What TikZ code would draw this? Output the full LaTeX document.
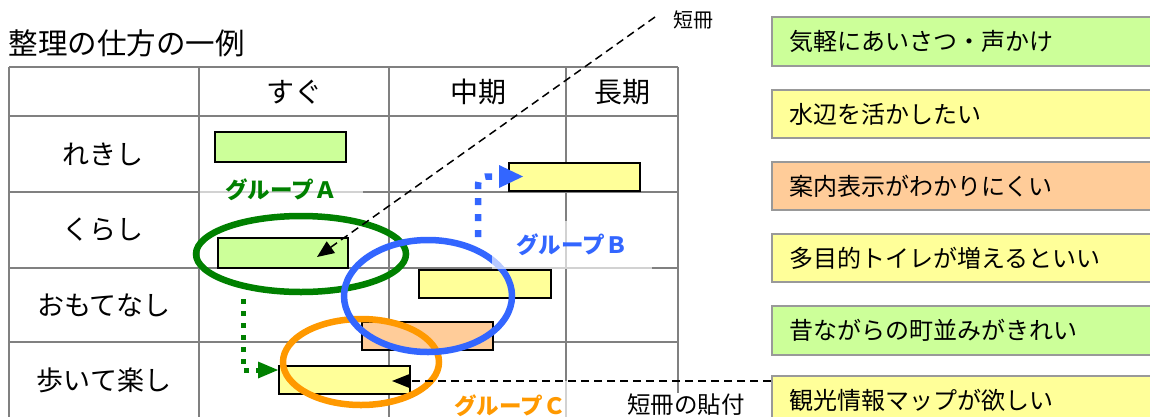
\documentclass[tikz,border=0pt]{standalone}
\usepackage{fontspec}
\setmainfont{Noto Sans CJK JP}
\usetikzlibrary{arrows.meta,shapes.geometric}
\definecolor{barG}{HTML}{CCFF99}
\definecolor{barY}{HTML}{FFFF99}
\definecolor{barO}{HTML}{FFCC99}
\definecolor{gridC}{HTML}{808080}
\definecolor{grpA}{HTML}{008000}
\definecolor{grpB}{HTML}{3366FF}
\definecolor{grpC}{HTML}{FF9900}
\definecolor{boxBorder}{HTML}{999999}
\begin{document}
\begin{tikzpicture}[x=1pt,y=-1pt,
  gridline/.style={draw=gridC,line width=2pt},
  bar/.style={draw=black,line width=2pt,inner sep=0pt,minimum width=131pt,minimum height=28pt},
  hdr/.style={font=\fontsize{28pt}{30pt}\selectfont},
  rowlbl/.style={font=\fontsize{27pt}{30pt}\selectfont},
  rbox/.style={draw=boxBorder,line width=2pt,anchor=west,text width=366pt,inner xsep=17pt,inner ysep=0pt,align=left,font=\fontsize{24pt}{28pt}\selectfont},
  glabel/.style={font=\fontsize{22.5pt}{24pt}\selectfont\bfseries,fill=white,fill opacity=0.65,text opacity=1,inner sep=0pt},
  grpring/.style={line width=6.5pt},
  dotline/.style={line cap=butt}]
\useasboundingbox (0,0) rectangle (1150,416);
\clip (0,0) rectangle (1150,416);

% title
\node[anchor=west,font=\fontsize{29.5pt}{32pt}\selectfont] (title) at (5,43) {整理の仕方の一例};

% table grid
\draw[gridline] (9,67) -- (678,67);
\foreach \yy in {116,192,268,342} \draw[gridline] (9,\yy) -- (678,\yy);
\foreach \xx in {9,199,389,566,678} \draw[gridline] (\xx,67) -- (\xx,420);

% headers
\node[hdr] (hSugu) at (294,92) {すぐ};
\node[hdr] (hChu) at (478,92) {中期};
\node[hdr] (hCho) at (622,92) {長期};
\node[rowlbl] (rReki) at (103,154) {れきし};
\node[rowlbl] (rKura) at (103,230) {くらし};
\node[rowlbl] (rOmo) at (104,305) {おもてなし};
\node[rowlbl] (rAru) at (104,380) {歩いて楽し};

% bars
\node[bar,fill=barG,minimum height=30pt] (b1) at (280.5,147) {};
\node[bar,fill=barG,minimum height=30pt,minimum width=130pt] (b2) at (283,253) {};
\node[bar,fill=barY] (b3) at (574.5,177) {};
\node[bar,fill=barY,minimum width=132pt] (b4) at (485,284) {};
\node[bar,fill=barO] (b5) at (427.5,336) {};
\node[bar,fill=barY] (b6) at (344.5,380) {};

% group rings
\draw[grpring,draw=grpC] (361,362) ellipse [x radius=78pt, y radius=43pt];
\draw[grpring,draw=grpA] (301,254) ellipse [x radius=105pt, y radius=38pt];
\draw[grpring,draw=grpB] (428,296) ellipse [x radius=84pt, y radius=56pt];

% right boxes
\node[rbox,fill=barG,minimum height=49pt] (r1) at (771,41.5) {気軽にあいさつ・声かけ};
\node[rbox,fill=barY,minimum height=48pt] (r2) at (771,114) {水辺を活かしたい};
\node[rbox,fill=barO,minimum height=48pt] (r3) at (771,186) {案内表示がわかりにくい};
\node[rbox,fill=barY,minimum height=48pt] (r4) at (771,258) {多目的トイレが増えるといい};
\node[rbox,fill=barG,minimum height=49pt] (r5) at (771,330.5) {昔ながらの町並みがきれい};
\node[rbox,fill=barY,minimum height=48pt] (r6) at (771,400) {観光情報マップが欲しい};

% group labels
\node[glabel,text=grpA,minimum width=163pt,minimum height=26pt] (gA) at (281,190) {グループＡ};
\node[glabel,text=grpB,minimum width=160pt,minimum height=48pt] (gB) at (572,245) {グループＢ};
\node[glabel,text=grpC,minimum width=140pt,minimum height=50pt] (gC) at (510,406) {グループＣ};

% annotation labels
\node[font=\fontsize{20pt}{24pt}\selectfont] (lblT) at (693,20) {短冊};
\node[font=\fontsize{23.5pt}{26pt}\selectfont,fill=white,inner sep=1pt] (lblP) at (686,405) {短冊の貼付};

% dashed connectors
\coordinate (tStart) at (655,17);
\coordinate (tTip) at (317,257);
\draw[line width=1.5pt,dash pattern=on 8pt off 5pt,-{Triangle[length=17pt,width=14pt]}] (tStart) -- (tTip);
\coordinate (pTip) at (392,381);
\draw[line width=1.5pt,dash pattern=on 8pt off 5pt,-{Triangle[length=18pt,width=14pt]}] (r6.west |- pTip) -- (pTip);

% dotted group arrows
\coordinate (gaStart) at (243,299);
\draw[dotline,draw=grpA,line width=5pt,dash pattern=on 5pt off 7pt,-{Triangle[length=20pt,width=17pt,line width=0pt]}] (gaStart) -- (243,370) -- (b6.west |- 0,370);
\coordinate (gbStart) at (478,237);
\coordinate (gbTip) at (523,176.5);
\draw[dotline,draw=grpB,line width=6.5pt,dash pattern=on 7pt off 9pt,rounded corners=8pt,-{Triangle[length=24pt,width=23pt,line width=0pt]}] (gbStart) -- (478,176.5) -- (gbTip);
\end{tikzpicture}
\end{document}
